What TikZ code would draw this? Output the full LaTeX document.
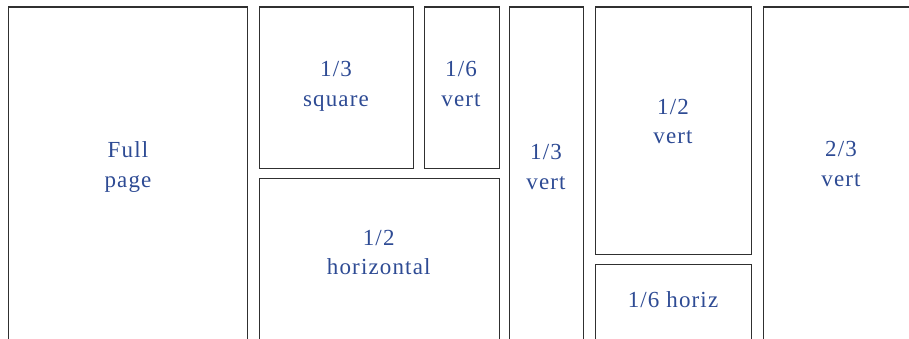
\documentclass[tikz,border=0pt]{standalone}
\usepackage{fontspec}
\setmainfont{Liberation Serif}
\newfontfamily\lblfont[LetterSpace=5]{Liberation Serif}
\definecolor{lbl}{HTML}{2E4B94}
\definecolor{edge}{HTML}{303030}
\begin{document}
\begin{tikzpicture}[x=1pt,y=-1pt,
  pbox/.style={draw=edge,line width=1.1pt,rectangle,inner sep=0pt,anchor=north west},
  lab/.style={text=lbl,inner sep=0pt,anchor=base,font=\lblfont\fontsize{23}{29.5}\selectfont}]
\useasboundingbox (0,0) rectangle (909,339);
\clip (0,0) rectangle (909,339);
% boxes
\node[pbox,minimum width=239.3pt,minimum height=360pt] (full) at (8,6.5) {};
\node[pbox,minimum width=154pt,minimum height=161.2pt] (sq) at (258.7,6.5) {};
\node[pbox,minimum width=74.7pt,minimum height=161.2pt] (sixv) at (424,6.5) {};
\node[pbox,minimum width=240pt,minimum height=200pt] (half) at (258.7,178.3) {};
\node[pbox,minimum width=74.6pt,minimum height=360pt] (thirdv) at (508.7,6.5) {};
\node[pbox,minimum width=156pt,minimum height=247.8pt] (halfv) at (595.3,6.5) {};
\node[pbox,minimum width=156pt,minimum height=120pt] (sixh) at (595.3,264.3) {};
\node[pbox,minimum width=160pt,minimum height=360pt] (twov) at (762.7,6.5) {};
% labels
\newcommand{\twolines}[2]{\begin{tabular}[t]{@{}c@{}}#1\\#2\end{tabular}}
\node[lab] (lfull) at (128,158) {\twolines{Full}{page}};
\node[lab] (lsq) at (336,76.7) {\twolines{1/3}{square}};
\node[lab] (lsixv) at (461,77) {\twolines{1/6}{vert}};
\node[lab] (lhalf) at (378.7,245) {\twolines{1/2}{horizontal}};
\node[lab] (lthirdv) at (546,160) {\twolines{1/3}{vert}};
\node[lab] (lhalfv) at (673,114.3) {\twolines{1/2}{vert}};
\node[lab] (ltwov) at (841,156.7) {\twolines{2/3}{vert}};
\node[lab] (lsixh) at (673,307.3) {1/6 horiz};
\end{tikzpicture}
\end{document}
